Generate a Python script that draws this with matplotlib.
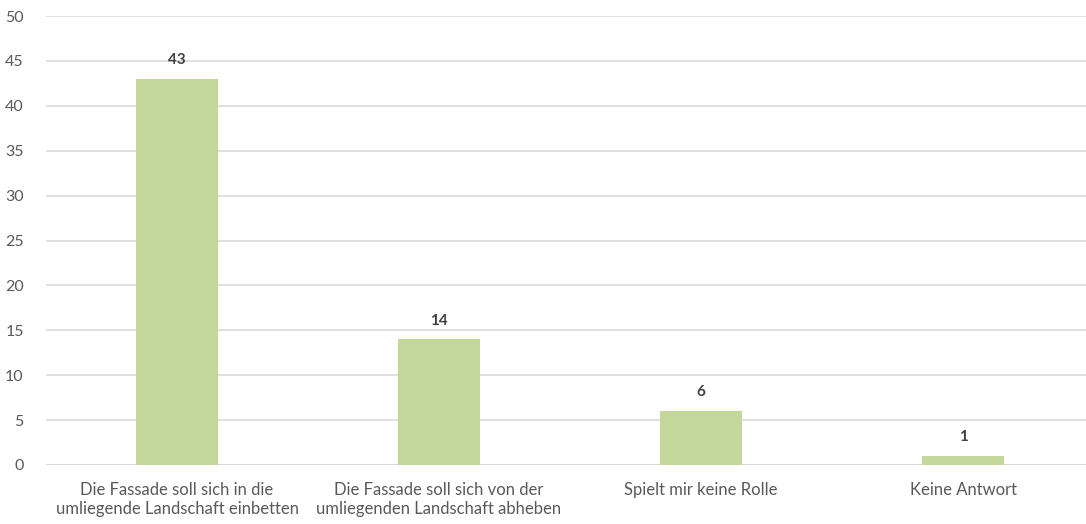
import matplotlib
matplotlib.use("Agg")
import matplotlib.pyplot as plt

categories = ["Die Fassade soll sich in die\numliegende Landschaft einbetten",
              "Die Fassade soll sich von der\numliegenden Landschaft abheben",
              "Spielt mir keine Rolle",
              "Keine Antwort"]
values = [43, 14, 6, 1]
yticks = [0, 5, 10, 15, 20, 25, 30, 35, 40, 45, 50]

plt.rcParams['font.family'] = ['Lato', 'DejaVu Sans']

fig = plt.figure(figsize=(10.86, 5.24), dpi=100)
ax = fig.add_axes([46/1086, 59/524, 1048/1086, 449/524])

x = list(range(len(categories)))
bars = ax.bar(x, values, width=0.31, color="#C4D79B", zorder=3)
for xi, v in zip(x, values):
    ax.text(xi, v + 1.3, str(v), ha="center", va="bottom", fontsize=11,
            fontweight="bold", color="#404040")

ax.set_xlim(-0.5, len(categories) - 0.5)
ax.set_ylim(0, 50)
ax.set_yticks(yticks)
ax.set_yticklabels([str(t) for t in yticks])
ax.set_xticks(x)
ax.set_xticklabels(categories, linespacing=1.25)
ax.yaxis.grid(True, color="#D9D9D9", linewidth=1.2, zorder=0)
ax.tick_params(axis="both", length=0, colors="#595959")
ax.tick_params(axis="y", labelsize=11.5, pad=16)
ax.tick_params(axis="x", labelsize=12, pad=12)
for s in ax.spines.values():
    s.set_visible(False)
ax.axhline(0, color="#D9D9D9", linewidth=1.2, zorder=2)

fig.savefig("out.png", dpi=100)
